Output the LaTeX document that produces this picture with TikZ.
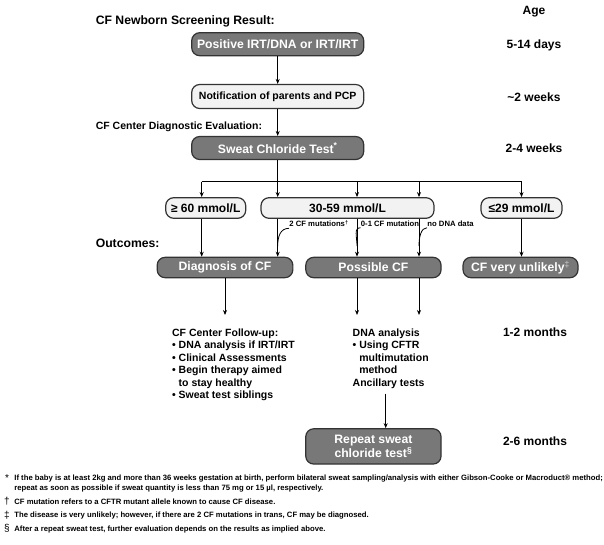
\documentclass[tikz,border=0pt]{standalone}
\usepackage{fontspec}
\setmainfont{Liberation Sans}
\usetikzlibrary{arrows.meta}
\definecolor{boxdark}{HTML}{787878}
\definecolor{boxlight}{HTML}{F2F2F2}
\definecolor{edgegray}{HTML}{333333}
\begin{document}
\begin{tikzpicture}[x=1pt,y=-1pt,line width=0.8pt,
  darkbox/.style={draw=edgegray,line width=1.2pt,fill=boxdark,rounded corners=8pt,text=white,font=\fontsize{12.2}{14}\bfseries,inner sep=0pt},
  lightbox/.style={draw=edgegray,line width=1.2pt,fill=boxlight,rounded corners=8pt,font=\fontsize{12}{13}\bfseries,inner sep=0pt},
  agelbl/.style={font=\fontsize{12}{13}\bfseries},
  heading/.style={anchor=west,font=\fontsize{12.2}{13}\bfseries,inner sep=0pt},
  branch/.style={anchor=west,font=\fontsize{7.7}{9}\bfseries,inner sep=1pt},
  listtext/.style={anchor=north west,align=left,font=\fontsize{10.5}{12.5}\bfseries,inner sep=0pt},
  note/.style={anchor=west,align=left,font=\fontsize{7.7}{10}\bfseries,inner sep=0pt},
  notemark/.style={font=\fontsize{10}{10}\selectfont,inner sep=0pt},
  arr/.style={-{Stealth[length=5pt,width=4pt]}}]
\useasboundingbox (0,0) rectangle (604,544);

\node[heading] (screen) at (95.4,21.2) {CF Newborn Screening Result:};
\node[heading,font=\fontsize{10.5}{12}\bfseries] (eval) at (95.4,127) {CF Center Diagnostic Evaluation:};
\node[heading] (outc) at (95.4,243.3) {Outcomes:};

\node[darkbox,minimum width=172,minimum height=23] (pos) at (277.7,44.2) {Positive IRT/DNA or IRT/IRT};
\node[lightbox,font=\fontsize{10.5}{12}\bfseries,minimum width=172,minimum height=24] (notif) at (277.7,96.5) {Notification of parents and PCP};
\node[darkbox,minimum width=172,minimum height=23] (sweat) at (277.7,148) {Sweat Chloride Test\textsuperscript{*}};

\node[lightbox,minimum width=80,minimum height=20.6] (high) at (205.7,208) {≥ 60 mmol/L};
\node[lightbox,minimum width=173,minimum height=20.6] (mid) at (347.5,208) {30-59 mmol/L};
\node[lightbox,minimum width=81,minimum height=20.6] (low) at (521.5,208) {≤29 mmol/L};

\node[darkbox,minimum width=135.7,minimum height=20.4] (diag) at (225,267.5) {Diagnosis of CF};
\node[darkbox,minimum width=135.3,minimum height=20.4] (poss) at (373.4,267.5) {Possible CF};
\node[darkbox,minimum width=115,minimum height=20.4] (unlik) at (520.5,267.5) {CF very unlikely\textsuperscript{\color{lightgray}‡}};
\node[darkbox,align=center,minimum width=135.3,minimum height=35.3] (rep) at (373.4,446.4) {Repeat sweat\\chloride test\textsuperscript{§}};

\node[agelbl] (age) at (534,11.5) {Age};
\node[agelbl] (age1) at (534,45.4) {5-14 days};
\node[agelbl] (age2) at (534,97.7) {\textasciitilde 2 weeks};
\node[agelbl] (age3) at (534,148.5) {2-4 weeks};
\node[agelbl] (age4) at (535,332) {1-2 months};
\node[agelbl] (age5) at (535,441.7) {2-6 months};

\coordinate (cA) at (201.7,0);
\coordinate (cB) at (277.7,0);
\coordinate (cC) at (357,0);
\coordinate (cD) at (419,0);
\coordinate (cR) at (385.7,0);
\coordinate (hl) at (0,181.7);
\coordinate (bend) at (0,246);
\coordinate (ytext) at (0,315);

\draw[arr] (pos) -- (notif);
\draw[arr] (notif) -- (sweat);
\draw[arr] (sweat) -- (cB |- mid.north);
\draw (cA |- hl) -- (low.north |- hl);
\draw[arr] (cA |- hl) -- (cA |- high.north);
\draw[arr] (cC |- hl) -- (cC |- mid.north);
\draw[arr] (cD |- hl) -- (cD |- mid.north);
\draw[arr] (low.north |- hl) -- (low.north);

\node[branch] (two) at (288,223.5) {2 CF mutations\textsuperscript{†}};
\node[branch] (one) at (359.5,223.5) {0-1 CF mutation};
\node[branch] (none) at (426,223.5) {no DNA data};

\draw[arr] (cA |- high.south) -- (cA |- diag.north);
\draw[arr] (cB |- mid.south) -- (cB |- diag.north);
\draw[arr] (cC |- mid.south) -- (cC |- poss.north);
\draw[arr] (cD |- mid.south) -- (cD |- poss.north);
\draw[arr] (low.south) -- (low.south |- unlik.north);
\draw ([xshift=1pt]two.south west) .. controls +(-9,0) and +(0,-9) .. (cB |- bend);
\draw ([xshift=1pt]one.south west) .. controls +(-7,0) and +(0,-9) .. (cC |- bend);
\draw ([xshift=1pt]none.south west) .. controls +(-6,0) and +(0,-9) .. (cD |- bend);

\node[listtext] (follow) at (171.7,328) {CF Center Follow-up:\\
  • DNA analysis if IRT/IRT\\
  • Clinical Assessments\\
  • Begin therapy aimed\\
  \phantom{• }to stay healthy\\
  • Sweat test siblings};
\node[listtext] (dna) at (352.3,328) {DNA analysis\\
  • Using CFTR\\
  \phantom{• }multimutation\\
  \phantom{• }method\\
  Ancillary tests};

\draw[arr] (diag) -- (diag.south |- ytext);
\draw[arr] (cC |- poss.south) -- (cC |- ytext);
\draw[arr] (cD |- poss.south) -- (cD |- ytext);
\draw[arr,shorten <=5pt] (cR |- dna.south) -- (cR |- rep.north);

\node[notemark] (m1) at (7,478) {*};
\node[note] (n1) at (14,484) {If the baby is at least 2kg and more than 36 weeks gestation at birth, perform bilateral sweat sampling/analysis with either Gibson-Cooke or Macroduct® method;\\
  repeat as soon as possible if sweat quantity is less than 75 mg or 15 µl, respectively.};
\node[notemark] (m2) at (7,501) {†};
\node[note] (n2) at (14,502) {CF mutation refers to a CFTR mutant allele known to cause CF disease.};
\node[notemark] (m3) at (7,515) {‡};
\node[note] (n3) at (14,516) {The disease is very unlikely; however, if there are 2 CF mutations in trans, CF may be diagnosed.};
\node[notemark] (m4) at (7,528) {§};
\node[note] (n4) at (14,529) {After a repeat sweat test, further evaluation depends on the results as implied above.};
\end{tikzpicture}
\end{document}
